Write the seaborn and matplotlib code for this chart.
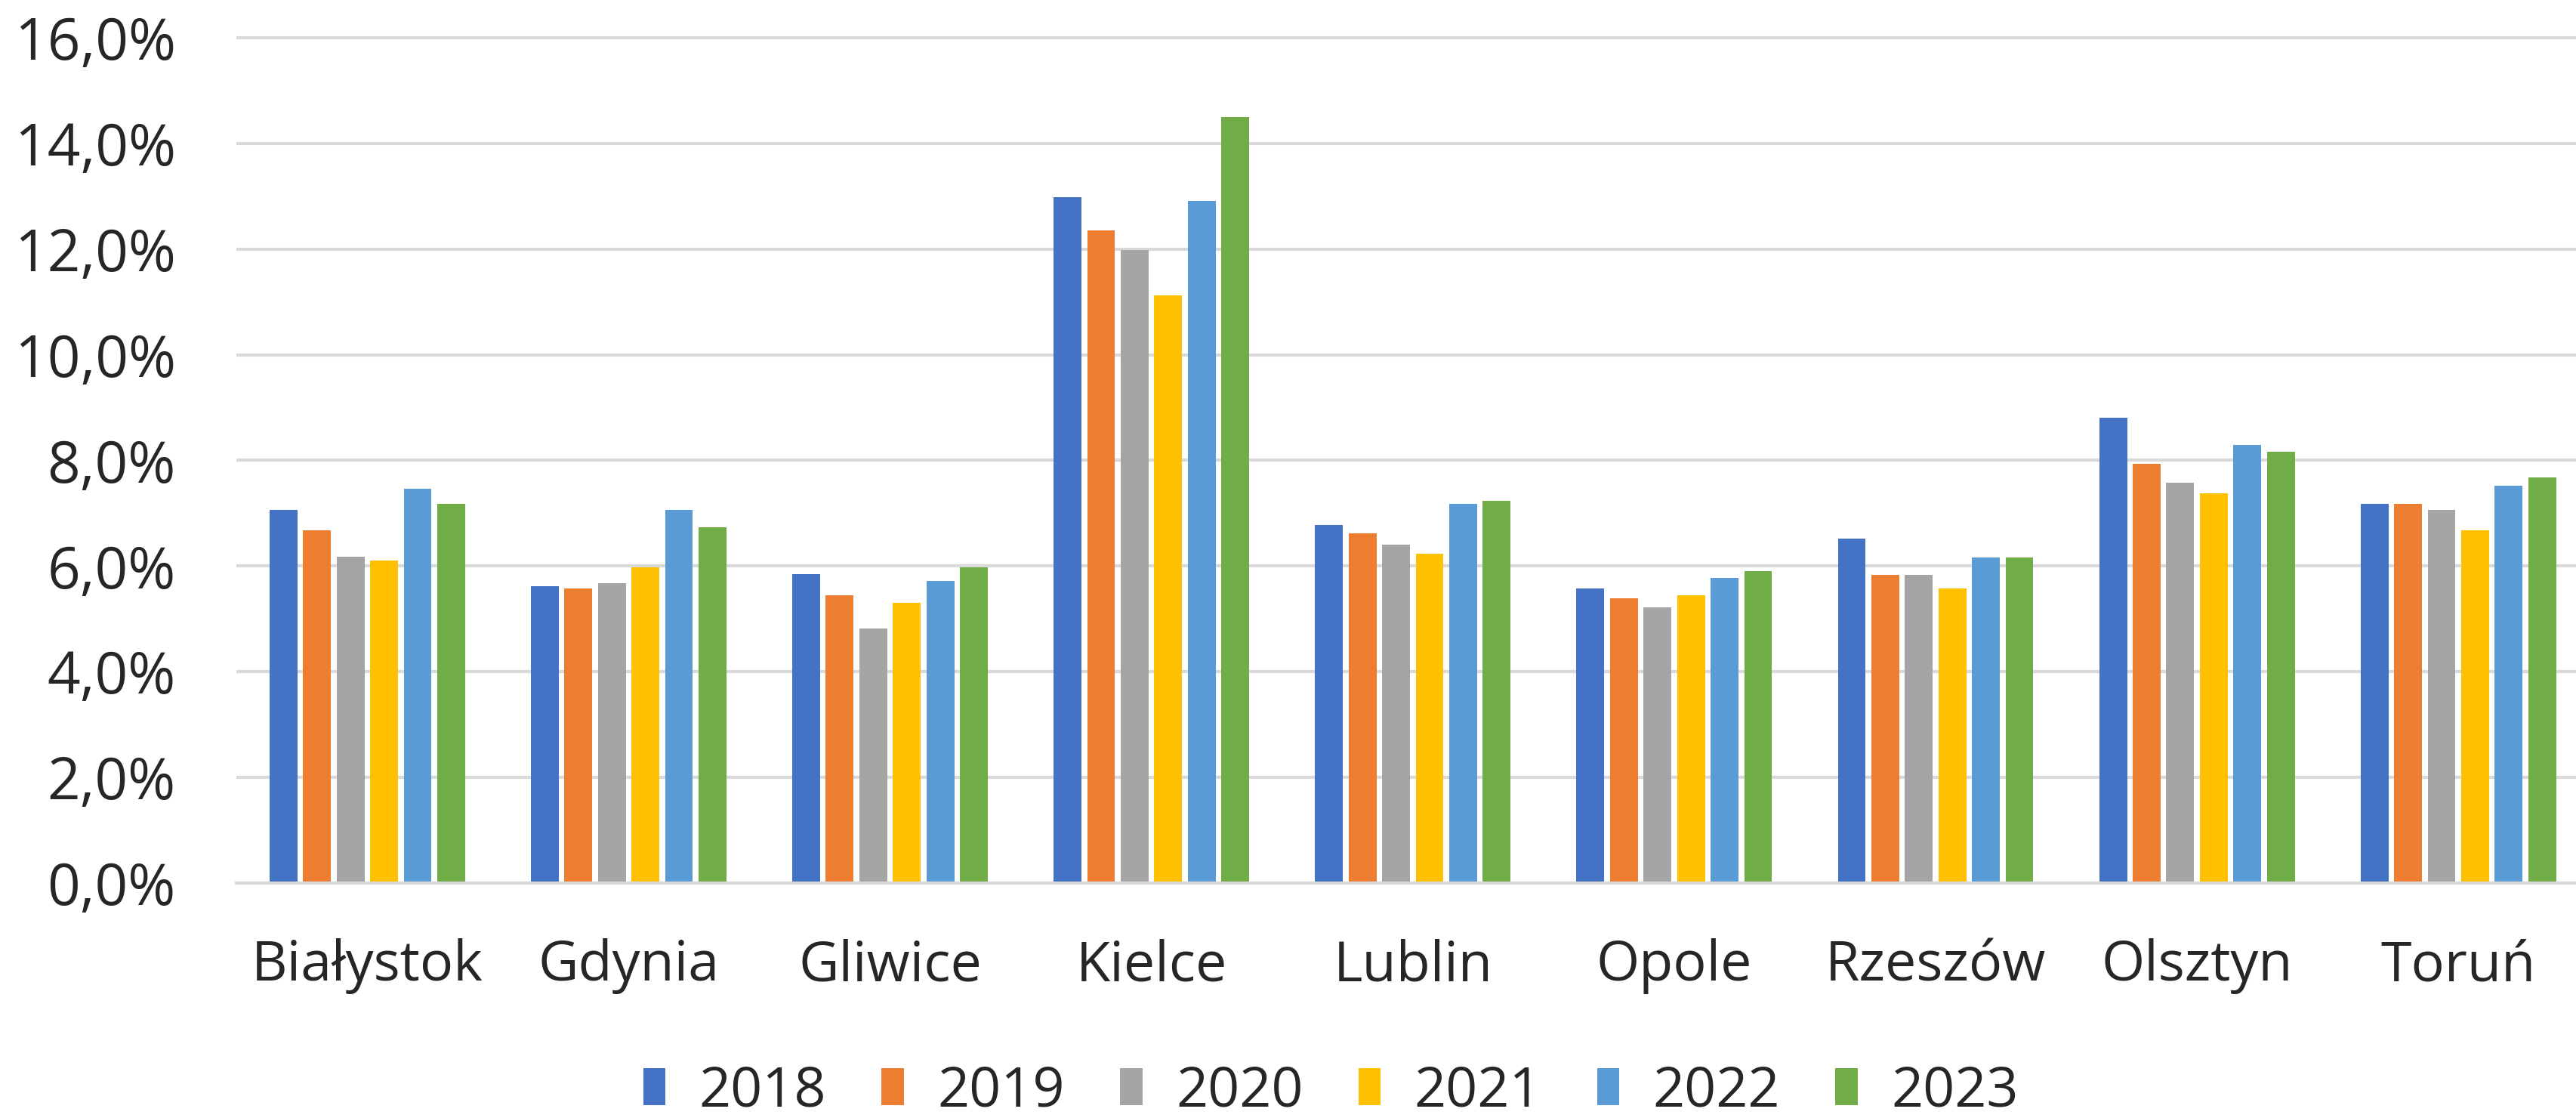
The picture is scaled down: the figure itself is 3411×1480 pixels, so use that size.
import matplotlib
matplotlib.use("Agg")
import matplotlib.pyplot as plt
import seaborn as sns
import pandas as pd
from matplotlib.ticker import FuncFormatter
from matplotlib.patches import Patch

cities = ["Białystok", "Gdynia", "Gliwice", "Kielce", "Lublin", "Opole", "Rzeszów", "Olsztyn", "Toruń"]
years = ["2018", "2019", "2020", "2021", "2022", "2023"]
v2018 = [7.06, 5.62, 5.85, 12.99, 6.77, 5.57, 6.52, 8.80, 7.17]
v2019 = [6.68, 5.57, 5.45, 12.36, 6.62, 5.39, 5.83, 7.94, 7.17]
v2020 = [6.18, 5.67, 4.82, 11.98, 6.40, 5.22, 5.83, 7.58, 7.06]
v2021 = [6.11, 5.97, 5.30, 11.13, 6.23, 5.45, 5.57, 7.38, 6.68]
v2022 = [7.46, 7.06, 5.72, 12.91, 7.17, 5.77, 6.16, 8.29, 7.52]
v2023 = [7.17, 6.74, 5.97, 14.50, 7.23, 5.91, 6.16, 8.17, 7.67]
colors = ["#4472C4", "#ED7D31", "#A5A5A5", "#FFC000", "#5B9BD5", "#70AD47"]

series = [v2018, v2019, v2020, v2021, v2022, v2023]
rows = []
for y, vals in zip(years, series):
    for c, v in zip(cities, vals):
        rows.append({"city": c, "year": y, "value": v})
df = pd.DataFrame(rows)

sns.set_theme(style="white")
plt.rcParams["font.family"] = ["Open Sans", "DejaVu Sans"]

W, H = 3411, 1480
fig = plt.figure(figsize=(W / 100, H / 100), dpi=100)
left = 144 / 1568
bottom = (680 - 537) / 680
top = 1 - 19.8 / 680
ax = fig.add_axes([left, bottom, 1 - left, top - bottom])

sns.barplot(data=df, x="city", y="value", hue="year", order=cities, hue_order=years,
            palette=colors, width=0.77, gap=0.17, ax=ax, legend=False,
            edgecolor="none", saturation=1)

ax.set_ylim(0, 16.1)
ax.set_xlim(-0.5, 8.45)
ax.set_yticks([0, 2, 4, 6, 8, 10, 12, 14, 16])
ax.yaxis.set_major_formatter(FuncFormatter(lambda v, p: f"{v:.1f}%".replace(".", ",")))
ax.grid(axis="y", color="#D9D9D9", linewidth=3.0, zorder=0)
ax.set_axisbelow(True)
for s in ["top", "right", "left"]:
    ax.spines[s].set_visible(False)
ax.spines["bottom"].set_color("#D9D9D9")
ax.spines["bottom"].set_linewidth(3.0)
ax.set_xlabel("")
ax.set_ylabel("")
ax.tick_params(axis="y", length=0, pad=58, labelsize=55, labelcolor="#262626")
ax.tick_params(axis="x", length=0, pad=53, labelsize=53, labelcolor="#262626")

handles = [Patch(facecolor=c, edgecolor="none") for c in colors]
fig.legend(handles, years, loc="center", bbox_to_anchor=(0.5166, 1 - 664 / 680),
           ncol=6, frameon=False, fontsize=53, handlelength=0.4, handleheight=0.65,
           handletextpad=0.6, columnspacing=1.0, labelcolor="#262626")

fig.savefig("out.png", dpi=100, facecolor="white")
